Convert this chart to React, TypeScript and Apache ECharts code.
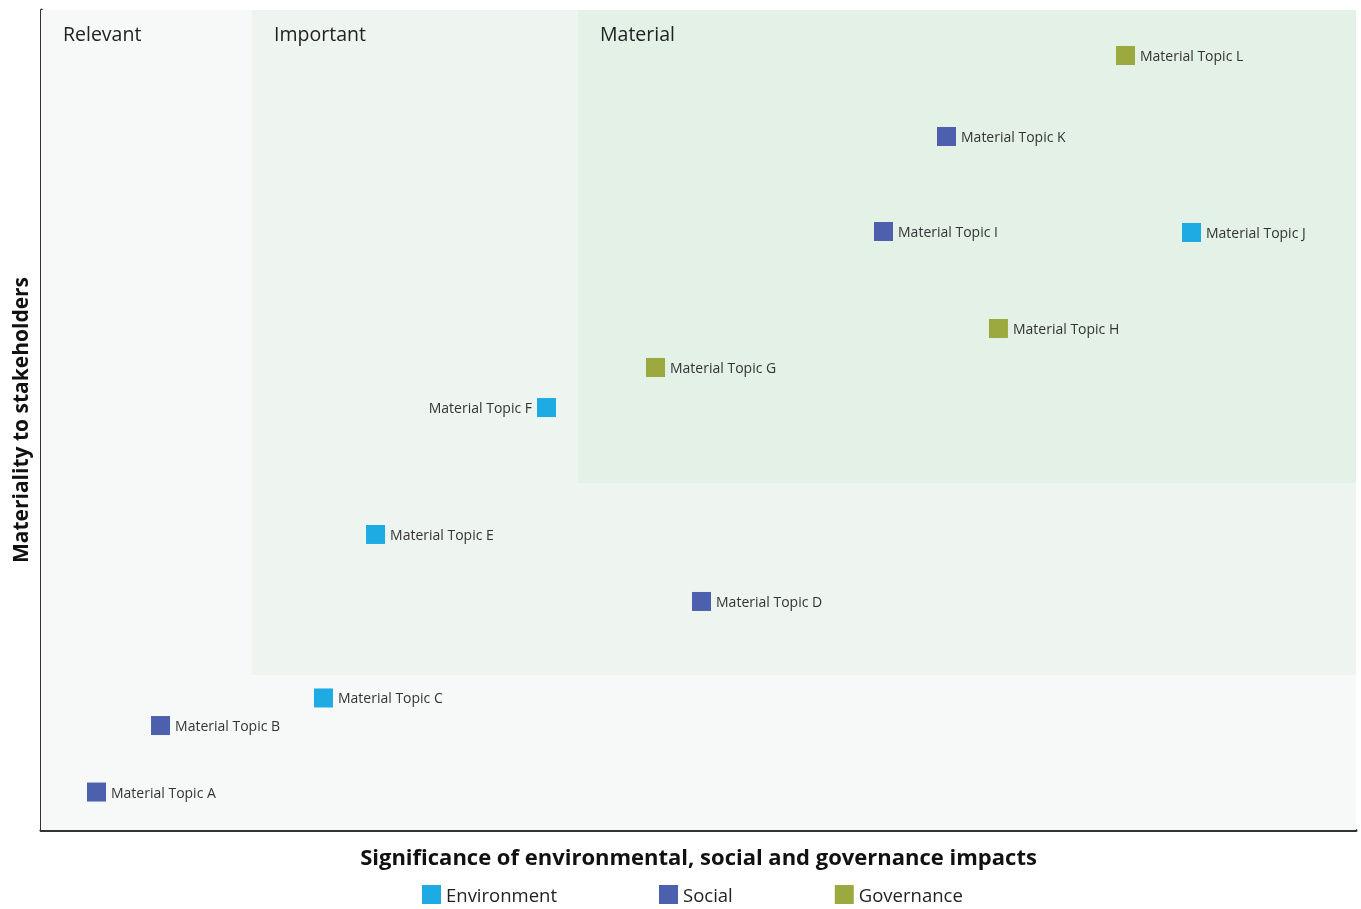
import React, { useEffect, useRef } from "react";
import * as echarts from "echarts";

const environmentPoints: [number, number, string][] = [
  [21.48, 16.1, "Material Topic C"],
  [25.44, 36.04, "Material Topic E"],
  [38.44, 51.52, "Material Topic F"],
  [87.49, 72.87, "Material Topic J"],
];
const socialPoints: [number, number, string][] = [
  [4.22, 4.63, "Material Topic A"],
  [9.09, 12.74, "Material Topic B"],
  [50.23, 27.87, "Material Topic D"],
  [64.07, 72.99, "Material Topic I"],
  [68.86, 84.57, "Material Topic K"],
];
const governancePoints: [number, number, string][] = [
  [46.73, 56.4, "Material Topic G"],
  [72.81, 61.16, "Material Topic H"],
  [82.47, 94.45, "Material Topic L"],
];
const zones: { name: string; x0: number; y0: number }[] = [
  { name: "Relevant", x0: 0, y0: 0 },
  { name: "Important", x0: 16.05, y0: 18.9 },
  { name: "Material", x0: 40.84, y0: 42.3 },
];
const zoneColors = ["#f7f9f8", "#eef5f0", "#e3f1e7"];
const leftLabelTopics = ["Material Topic F"];

const FONT = "'Open Sans', 'Noto Sans', sans-serif";

export default function App() {
  const ref = useRef<HTMLDivElement>(null);
  useEffect(() => {
    if (!ref.current) return;
    const chart = echarts.init(ref.current, undefined, { renderer: "svg" });
    const mkData = (pts: [number, number, string][]) =>
      pts.map((p) => ({
        value: [p[0], p[1]],
        name: p[2],
        label: leftLabelTopics.includes(p[2]) ? { position: "left" } : undefined,
      }));
    const baseLabel = {
      show: true,
      position: "right",
      distance: 5,
      formatter: "{b}",
      fontFamily: FONT,
      fontSize: 14,
      color: "#333",
    };
    chart.setOption({
      animation: false,
      textStyle: { fontFamily: FONT },
      grid: {
        left: 41,
        right: 5,
        top: 10,
        bottom: 79,
        show: true,
        backgroundColor: "#ffffff",
        borderWidth: 0,
      },
      legend: {
        left: 422,
        top: 885,
        padding: 0,
        icon: "rect",
        itemWidth: 19,
        itemHeight: 19,
        itemGap: 102,
        textStyle: { fontSize: 18.5, lineHeight: 19, color: "#222", fontFamily: FONT },
        data: ["Environment", "Social", "Governance"],
      },
      xAxis: {
        type: "value",
        min: 0,
        max: 100,
        name: "Significance of environmental, social and governance impacts",
        nameLocation: "middle",
        nameGap: 15,
        nameTextStyle: { fontSize: 22, fontWeight: "bold", color: "#111", fontFamily: FONT },
        axisLine: { show: true, onZero: false, lineStyle: { color: "#333", width: 3 } },
        axisTick: { show: false },
        axisLabel: { show: false },
        splitLine: { show: false },
      },
      yAxis: {
        type: "value",
        min: 0,
        max: 100,
        name: "Materiality to stakeholders",
        nameLocation: "middle",
        nameGap: 11,
        nameTextStyle: { fontSize: 21, fontWeight: "bold", color: "#111", fontFamily: FONT },
        axisLine: { show: true, onZero: false, lineStyle: { color: "#333", width: 3 } },
        axisTick: { show: false },
        axisLabel: { show: false },
        splitLine: { show: false },
      },
      series: [
        {
          name: "Environment",
          type: "scatter",
          symbol: "rect",
          symbolSize: 19,
          itemStyle: { color: "#1eabe3", opacity: 1 },
          label: baseLabel,
          data: mkData(environmentPoints),
          z: 5,
          markArea: {
            silent: true,
            data: zones.map((zn, i) => [
              {
                name: zn.name,
                xAxis: zn.x0,
                yAxis: zn.y0,
                itemStyle: { color: zoneColors[i], opacity: 1 },
                label: {
                  show: true,
                  position: "insideTopLeft",
                  distance: 0,
                  offset: [22, 13],
                  fontSize: 19.5,
                  color: "#222",
                  fontFamily: FONT,
                },
              },
              { xAxis: 100, yAxis: 100 },
            ]),
          },
        },
        {
          name: "Social",
          type: "scatter",
          symbol: "rect",
          symbolSize: 19,
          itemStyle: { color: "#4c60ad", opacity: 1 },
          label: baseLabel,
          data: mkData(socialPoints),
          z: 5,
        },
        {
          name: "Governance",
          type: "scatter",
          symbol: "rect",
          symbolSize: 19,
          itemStyle: { color: "#9ba93f", opacity: 1 },
          label: baseLabel,
          data: mkData(governancePoints),
          z: 5,
        },
      ],
    });
    return () => chart.dispose();
  }, []);
  return (
    <div
      ref={ref}
      style={{ position: "fixed", left: 0, top: 0, width: 1361, height: 909 }}
    />
  );
}
